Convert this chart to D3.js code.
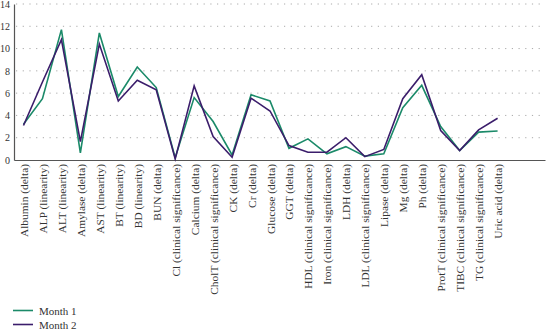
<!DOCTYPE html>
<html><head><meta charset="utf-8">
<script src="https://cdn.jsdelivr.net/npm/d3@7"></script>
<style>body{margin:0;background:#fff}svg{display:block}</style>
</head><body>
<svg id="c" width="546" height="329"></svg>
<script>
const categories = ["Albumin (delta)","ALP (linearity)","ALT (linearity)","Amylase (delta)","AST (linearity)","BT (linearity)","BD (linearity)","BUN (delta)","Cl (clinical significance)","Calcium (delta)","CholT (clinical significance)","CK (delta)","Cr (delta)","Glucose (delta)","GGT (delta)","HDL (clinical significance)","Iron (clinical significance)","LDH (delta)","LDL (clinical significance)","Lipase (delta)","Mg (delta)","Ph (delta)","ProtT (clinical significance)","TIBC (clinical significance)","TG (clinical significance)","Uric acid (delta)"];
const month1 = [3.2,5.5,11.7,0.65,11.4,5.7,8.35,6.5,0.2,5.6,3.45,0.45,5.85,5.3,1.05,1.9,0.55,1.2,0.35,0.55,4.7,6.7,3.0,0.85,2.5,2.6];
const month2 = [3.1,7.0,10.8,1.65,10.4,5.3,7.15,6.3,0.1,6.65,2.1,0.25,5.55,4.4,1.3,0.7,0.7,2.0,0.3,0.95,5.5,7.65,2.65,0.85,2.7,3.75];
const yTicks = [0,2,4,6,8,10,12,14];
const seriesNames = ["Month 1","Month 2"];
const colors = ["#1b8a69","#3b1d6b"];

const svg = d3.select("#c");
const font = "'Liberation Serif','DejaVu Serif',serif";
const slots = 28;
const x = d3.scaleLinear().domain([0, slots]).range([14, 545]);
const y = d3.scaleLinear().domain([0, 14]).range([160, 4]);

// grid
svg.append("g").selectAll("line").data(yTicks.filter(d=>d>0)).join("line")
  .attr("x1", 16).attr("x2", 545).attr("y1", d=>y(d)).attr("y2", d=>y(d))
  .attr("stroke", "#aaa").attr("stroke-width", 1).attr("stroke-dasharray", "1.2,5.5");

// y axis
const ya = svg.append("g").attr("transform", "translate(14,0)")
  .call(d3.axisLeft(y).tickValues(yTicks).tickSize(0).tickPadding(4));
ya.select(".domain").attr("stroke", "#555").attr("stroke-width", 1.2);
ya.selectAll("text").attr("font-family", font).attr("font-size", 10).attr("fill", "#333");

// x axis
const xa = svg.append("g").attr("transform", "translate(0,160)")
  .call(d3.axisBottom(x).tickValues(categories.map((c,i)=>i+0.5)).tickSize(0).tickFormat((d,i)=>categories[i]));
xa.select(".domain").attr("stroke", "#555").attr("stroke-width", 1.2);
xa.selectAll("text").attr("font-family", font).attr("font-size", 11.4).attr("fill", "#333")
  .attr("text-anchor", "end").attr("dy", null)
  .attr("transform", "translate(0,4) rotate(-90)").attr("x", 0).attr("y", 0)
  .attr("dominant-baseline", "central");

// lines
const line = d3.line().x((d,i)=>x(i+0.5)).y(d=>y(d));
[month1, month2].forEach((s,k)=>{
  svg.append("path").datum(s).attr("d", line).attr("fill", "none")
    .attr("stroke", colors[k]).attr("stroke-width", 1.6).attr("stroke-linejoin", "miter");
});

// legend
const lg = svg.append("g");
seriesNames.forEach((n,k)=>{
  const ly = 310.5 + k*14;
  lg.append("line").attr("x1", 13).attr("x2", 33).attr("y1", ly).attr("y2", ly)
    .attr("stroke", colors[k]).attr("stroke-width", 1.6);
  lg.append("text").attr("x", 39).attr("y", ly).attr("dominant-baseline", "central")
    .attr("font-family", font).attr("font-size", 11).attr("fill", "#333").text(n);
});
</script>
</body></html>
